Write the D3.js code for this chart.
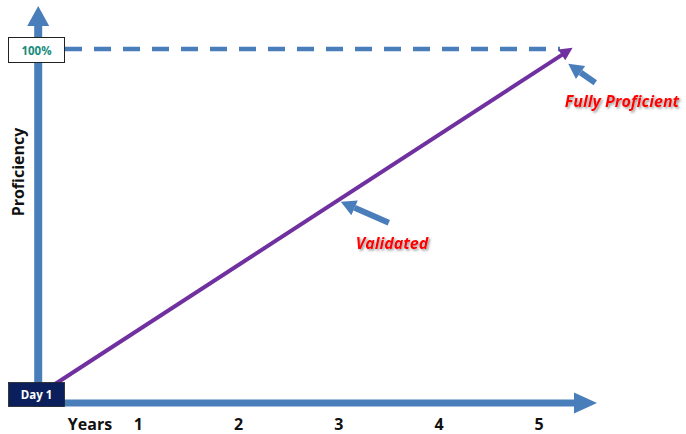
<!DOCTYPE html>
<html><head><meta charset="utf-8">
<script src="https://cdn.jsdelivr.net/npm/d3@7"></script>
<style>
html,body{margin:0;padding:0;background:#fff;}
svg{display:block;font-family:"Open Sans",Lato,sans-serif;}
</style></head>
<body><svg id="c" width="686" height="434"></svg>
<script>
// ---- data ----
const yearTicks = [1, 2, 3, 4, 5];
const xAxisTitle = "Years";
const yAxisTitle = "Proficiency";
const startLabel = "Day 1";
const fullLabel = "100%";
const curveYears = [0, 5.3];
const curveProficiency = [0, 100];
const annotationText = ["Validated", "Fully Proficient"];
const annotationYears = [3.02, 5.29];
const annotationProficiency = [56, 96];

// ---- layout ----
const svg = d3.select("#c");
const blue = "#4a7ebb", purple = "#7030a0";
const x = d3.scaleLinear().domain([0, 5]).range([38.2, 539.2]);
const y = d3.scaleLinear().domain([0, 100]).range([395, 50]);
const axisY = 403;

const defs = svg.append("defs");
const f = defs.append("filter").attr("id","sh").attr("x","-10%").attr("y","-30%").attr("width","130%").attr("height","180%");
f.append("feDropShadow").attr("dx",1.6).attr("dy",1.6).attr("stdDeviation",0.9).attr("flood-color","#555").attr("flood-opacity",0.6);

function arrowHead(g, tipX, tipY, ang, len, halfW, color){
  const bx = tipX - len*Math.cos(ang), by = tipY - len*Math.sin(ang);
  const px = -Math.sin(ang)*halfW, py = Math.cos(ang)*halfW;
  g.append("path").attr("d",`M${tipX},${tipY}L${bx+px},${by+py}L${bx-px},${by-py}Z`).attr("fill",color);
  return [bx, by];
}

// y axis
const ga = svg.append("g");
ga.append("line").attr("x1",x(0)).attr("x2",x(0)).attr("y1",axisY+3).attr("y2",24).attr("stroke",blue).attr("stroke-width",8);
arrowHead(ga, x(0), 6, -Math.PI/2, 20, 11, blue);
// x axis
ga.append("line").attr("x1",x(0)-4).attr("x2",577).attr("y1",axisY).attr("y2",axisY).attr("stroke",blue).attr("stroke-width",7);
arrowHead(ga, 597, axisY, 0, 23, 10.5, blue);

// dashed 100% line
svg.append("line").attr("x1",65).attr("x2",560).attr("y1",y(100)-1).attr("y2",y(100)-1)
  .attr("stroke",blue).attr("stroke-width",4.5).attr("stroke-dasharray","17,12");

// purple line
const pts = curveYears.map((d,i)=>[x(d), y(curveProficiency[i])]);
const ang = Math.atan2(pts[1][1]-pts[0][1], pts[1][0]-pts[0][0]);
const tip = [pts[1][0]+4*Math.cos(ang), pts[1][1]+4*Math.sin(ang)];
const gp = svg.append("g");
const base = arrowHead(gp, tip[0], tip[1], ang, 13, 6.5, purple);
gp.append("line").attr("x1",pts[0][0]).attr("y1",pts[0][1]).attr("x2",base[0]+1).attr("y2",base[1]-0.5)
  .attr("stroke",purple).attr("stroke-width",4);

// boxes
svg.append("rect").attr("x",8.5).attr("y",382.5).attr("width",56).attr("height",24).attr("fill","#0b1f5c").attr("stroke","#222").attr("stroke-width",0.8);
svg.append("text").attr("x",36.5).attr("y",399).attr("text-anchor","middle").attr("fill","#fff")
  .attr("font-weight","bold").attr("font-size",11.5).text(startLabel);
svg.append("rect").attr("x",8.5).attr("y",37.5).attr("width",56).attr("height",25).attr("fill","#fff").attr("stroke","#222").attr("stroke-width",1);
svg.append("text").attr("x",36.5).attr("y",54.5).attr("text-anchor","middle").attr("fill","#178c7c")
  .attr("font-weight","bold").attr("font-size",11.5).text(fullLabel);

// tick labels
svg.selectAll("text.tick").data(yearTicks).join("text").attr("class","tick")
  .attr("x",d=>x(d)).attr("y",430).attr("text-anchor","middle").attr("font-weight","bold").attr("font-size",16).attr("fill","#111").text(d=>d);
svg.append("text").attr("x",90).attr("y",430).attr("text-anchor","middle").attr("font-weight","bold").attr("font-size",16).attr("fill","#111").text(xAxisTitle);
svg.append("text").attr("transform","translate(24,172) rotate(-90)").attr("text-anchor","middle")
  .attr("font-weight","bold").attr("font-size",16).attr("fill","#111").text(yAxisTitle);

// annotations
const tailOff = [[48,21],[27,19]];
const textPos = [[392,249],[622,107]];
annotationText.forEach((t,i)=>{
  const tx = x(annotationYears[i]), ty = y(annotationProficiency[i]);
  const g = svg.append("g");
  const a = Math.atan2(-tailOff[i][1], -tailOff[i][0]);
  const b = arrowHead(g, tx, ty, a, 15, 8, blue);
  g.append("line").attr("x1",tx+tailOff[i][0]).attr("y1",ty+tailOff[i][1]).attr("x2",b[0]).attr("y2",b[1])
    .attr("stroke",blue).attr("stroke-width",6);
  svg.append("text").attr("x",textPos[i][0]).attr("y",textPos[i][1]).attr("text-anchor","middle")
    .attr("font-weight","bold").attr("font-style","italic").attr("font-size",16).attr("fill","#ff0000")
    .attr("filter","url(#sh)").text(t);
});
</script></body></html>
